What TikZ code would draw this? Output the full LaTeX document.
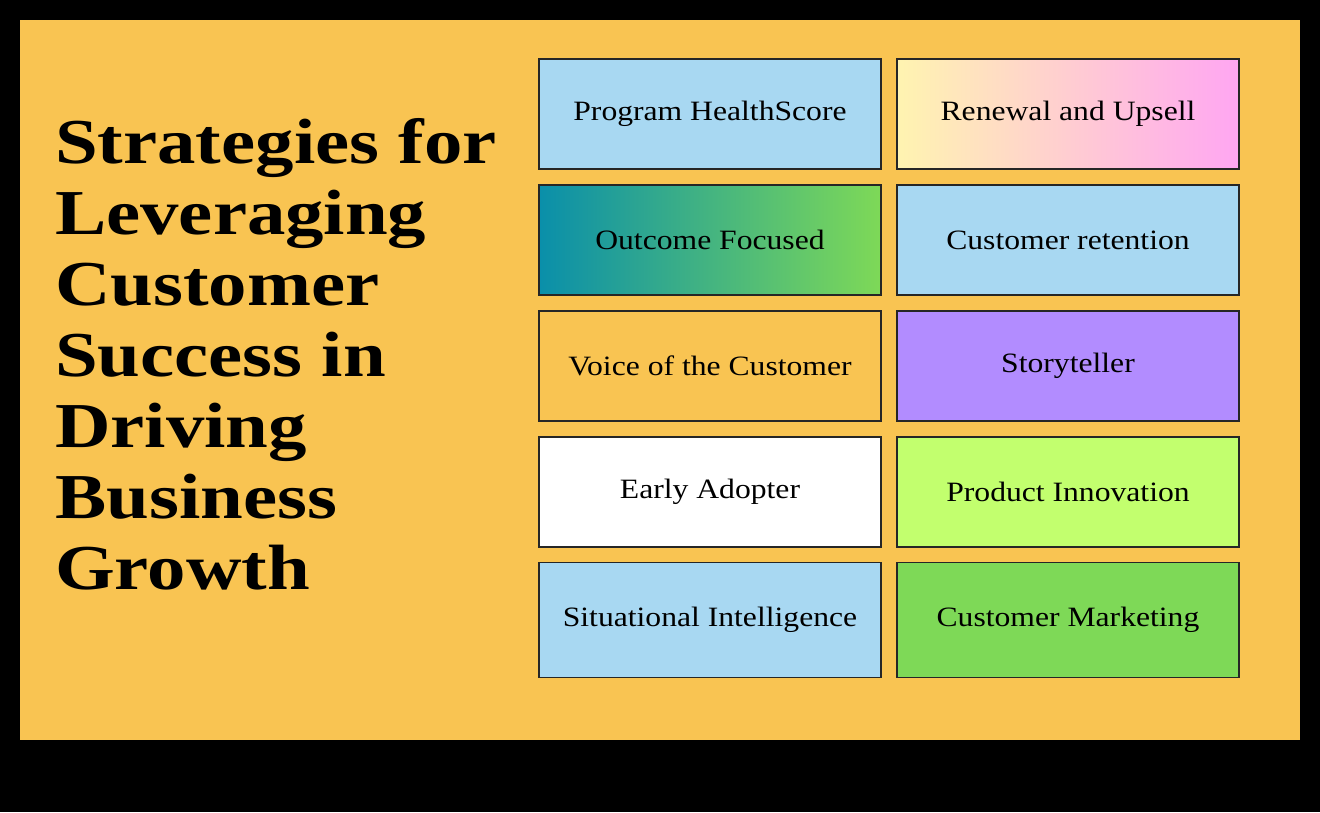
\documentclass[tikz,border=0pt]{standalone}
\usepackage{fontspec}
\setmainfont{Liberation Serif}
\newfontfamily\titlefont[FakeStretch=1.2]{Liberation Serif}
\newfontfamily\boxfont[FakeStretch=1.13]{Liberation Serif}
\definecolor{bgor}{HTML}{F9C452}
\definecolor{lblue}{HTML}{A8D8F2}
\definecolor{purp}{HTML}{B28CFF}
\definecolor{lime}{HTML}{C2FF6E}
\definecolor{grn}{HTML}{7ED957}
\definecolor{teal}{HTML}{0A8FAA}
\definecolor{ylw}{HTML}{FFF4B0}
\definecolor{pnk}{HTML}{FFA6F2}
\begin{document}
\begin{tikzpicture}[x=1pt,y=-1pt,
  box/.style={draw=black!85,line width=1.5pt,minimum width=342pt,minimum height=110pt,inner sep=0pt,font=\boxfont\fontsize{28}{32}\selectfont}]
\useasboundingbox (0,0) rectangle (1320,812);
\fill[black] (0,0) rectangle (1320,812);
\fill[bgor] (20,20) rectangle (1300,740);
\node[anchor=north west,align=left,inner sep=0pt,font=\titlefont\fontsize{64}{71}\selectfont\bfseries] (title) at (55,118)
{Strategies for\\Leveraging\\Customer\\Success in\\Driving\\Business\\Growth};
\node[box,fill=lblue] (a1) at (710,114) {Program HealthScore};
\node[box,left color=teal,right color=grn] (a2) at (710,240) {Outcome Focused};
\node[box,fill=bgor] (a3) at (710,366) {Voice of the Customer};
\node[box,fill=white] (a4) at (710,492) {Early Adopter};
\node[box,fill=lblue,minimum height=115pt] (a5) at (710,620) {Situational Intelligence};
\node[box,left color=ylw,right color=pnk] (b1) at (1068,114) {Renewal and Upsell};
\node[box,fill=lblue] (b2) at (1068,240) {Customer retention};
\node[box,fill=purp] (b3) at (1068,366) {Storyteller};
\node[box,fill=lime] (b4) at (1068,492) {Product Innovation};
\node[box,fill=grn,minimum height=115pt] (b5) at (1068,620) {Customer Marketing};
\end{tikzpicture}
\end{document}
